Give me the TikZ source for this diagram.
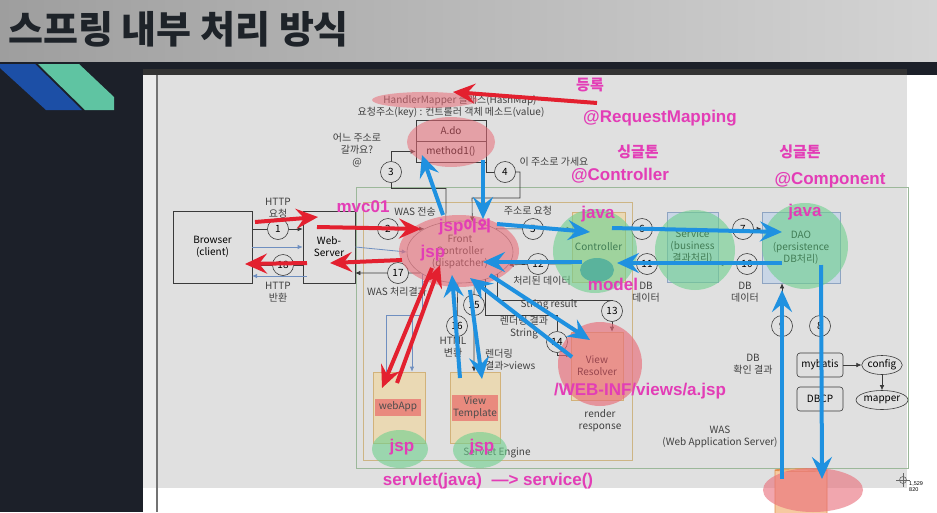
\documentclass[tikz,border=0pt]{standalone}
\usepackage{fontspec}
\setmainfont{Liberation Sans}
\newfontfamily\kr{Noto Sans CJK KR}
\usetikzlibrary{arrows.meta,shapes.geometric,calc}

\definecolor{hdrL}{HTML}{9E9E9E}
\definecolor{hdrR}{HTML}{D4D4D4}
\definecolor{bgdark}{HTML}{1C2029}
\definecolor{titlec}{HTML}{1E2329}
\definecolor{stripeblue}{HTML}{1C4FA6}
\definecolor{stripeteal}{HTML}{5FC4A2}
\definecolor{panel}{HTML}{E0E0E0}
\definecolor{edge}{HTML}{3A3A3A}
\definecolor{wasgreen}{HTML}{9CB89A}
\definecolor{engtan}{HTML}{CDB585}
\definecolor{tanfill}{HTML}{EAD9B4}
\definecolor{tanedge}{HTML}{D2B27A}
\definecolor{bluefill}{HTML}{C9D6E6}
\definecolor{blueedge}{HTML}{8EA4C2}
\definecolor{labred}{HTML}{E98A7E}
\definecolor{thinblue}{HTML}{6F8FC0}
\definecolor{annred}{HTML}{E3202F}
\definecolor{annblue}{HTML}{1F91E0}
\definecolor{annmag}{HTML}{E33DB6}
\definecolor{hlpink}{HTML}{E96C78}
\definecolor{hlgreen}{HTML}{6DD08E}
\definecolor{hlteal}{HTML}{4EAE9C}
\definecolor{dbfill}{HTML}{F6C9A0}
\definecolor{dbedge}{HTML}{E0904E}

\newcommand{\dgf}{\kr\fontsize{10}{12}\selectfont}
\newcommand{\annf}{\fontsize{17}{19}\selectfont\bfseries}
\newcommand{\annkf}{\kr\fontsize{15}{17}\selectfont\bfseries}

\tikzset{
 box/.style={draw=edge, line width=0.6pt, align=center, font=\dgf, inner sep=1pt},
 num/.style={circle, draw=edge, fill=panel, line width=0.6pt, minimum size=21pt, inner sep=0pt, font=\dgf},
 lbl/.style={align=center, font=\dgf, text=black!75, inner sep=1pt},
 conn/.style={draw=edge, line width=0.6pt},
 endtip/.style={-{Latex[length=5pt,width=4.5pt]}},
 thinb/.style={draw=thinblue, line width=0.8pt},
 redarr/.style={draw=annred, line width=4pt, -{Stealth[length=22pt,width=20pt,inset=8pt]}},
 bluarr/.style={draw=annblue, line width=4pt, -{Stealth[length=22pt,width=20pt,inset=8pt]}},
 ann/.style={text=annmag, font=\annf, inner sep=0pt},
 annk/.style={text=annmag, font=\annkf, inner sep=0pt},
}

\begin{document}
\begin{tikzpicture}[x=1pt,y=-1pt]
\useasboundingbox (0,0) rectangle (937,512);

% header and slide background
\shade[left color=hdrL, right color=hdrR] (0,0) rectangle (937,62);
\fill[bgdark] (0,62) rectangle (937,512);
\node[anchor=west, inner sep=0pt, text=titlec, font=\kr\bfseries\fontsize{38}{42}\selectfont] (title) at (8,29) {스프링 내부 처리 방식};
\fill[stripeblue] (0,64) -- (35,64) -- (82,110) -- (46,110) -- (0,68) -- cycle;
\fill[stripeteal] (38,64) -- (79,64) -- (114,97) -- (114,110) -- (85,110) -- cycle;

% screenshot panel
\fill[black!80] (143,69) rectangle (907,75);
\fill[panel] (143,75) rectangle (907,488);
\fill[white] (907,75) rectangle (937,512);
\fill[white] (143,488) rectangle (907,512);
\fill[black!8] (143,75) rectangle (156,488);
\draw[black!55, line width=1.6pt] (157,75) -- (157,512);

% containers
\draw[wasgreen, line width=0.8pt] (356,187) rectangle (908,468);
\draw[engtan, line width=0.8pt] (363,202) rectangle (632,460);

% top labels and handler box
\node[lbl] (hm) at (460,101) {HandlerMapper 클래스(HashMap)};
\node[lbl] (hmk) at (451,113) {요청주소(key) : 컨트롤러 객체 메소드(value)};
\node[box, minimum width=70pt, minimum height=21pt] (ado) at (451,130.5) {A.do};
\node[box, minimum width=70pt, minimum height=21pt] (m1) at (451,151.5) {method1()};
\node[lbl] (where) at (357,150) {어느 주소로\\갈까요?\\@};
\node[lbl] (goaddr) at (554,162) {이 주소로 가세요};

% main boxes
\node[box, minimum width=79pt, minimum height=72pt] (browser) at (212.5,247) {Browser\\(client)};
\node[box, minimum width=52pt, minimum height=72pt] (web) at (329,247) {Web-\\Server};
\node[ellipse, draw=black!50, line width=0.6pt, minimum width=106pt, minimum height=62pt, inner sep=0pt, font=\dgf, align=center, text=black!75] (fc) at (460,252) {Front\\Controller\\(dispatcher)};
\node[box, draw=tanedge, fill=tanfill, minimum width=53pt, minimum height=70pt] (ctrl) at (598.5,247) {Controller};
\node[box, draw=blueedge, fill=bluefill, minimum width=51pt, minimum height=70pt] (svc) at (692.5,247) {Service\\(business\\결과처리)};
\node[box, draw=blueedge, fill=bluefill, minimum width=78pt, minimum height=71pt] (dao) at (801,247.5) {DAO\\(persistence\\DB처리)};
\node[box, draw=tanedge, fill=tanfill, minimum width=52pt, minimum height=68pt] (vr) at (597,366) {View\\Resolver};
\node[box, draw=tanedge, fill=tanfill, minimum width=52pt, minimum height=71pt] (webapp) at (399,407.5) {};
\node[fill=labred, minimum width=46pt, minimum height=17pt, inner sep=0pt, font=\dgf, text=black!70] (webapplbl) at (398,407) {webApp};
\node[box, draw=tanedge, fill=tanfill, minimum width=50pt, minimum height=71pt] (vt) at (475,407.5) {};
\node[fill=labred, minimum width=46pt, minimum height=26pt, inner sep=0pt, font=\dgf, align=center, text=black!70] (vtlbl) at (475,408) {View\\Template};
\node[box, rounded corners=3pt, minimum width=46pt, minimum height=24pt] (myb) at (820,365) {mybatis};
\node[box, rounded corners=3pt, minimum width=46pt, minimum height=24pt] (dbcp) at (820,399) {DBCP};
\node[box, ellipse, minimum width=40pt, minimum height=19pt, inner sep=0pt] (cfg) at (882,365) {config};
\node[box, ellipse, minimum width=40pt, minimum height=19pt, inner sep=0pt] (mapr) at (882,400) {mapper};
\node[cylinder, shape border rotate=90, aspect=0.35, draw=dbedge, fill=dbfill, minimum width=52pt, minimum height=64pt, line width=0.9pt] (db) at (801,502) {};

% other labels
\node[lbl] (httpreq) at (278,208) {HTTP\\요청};
\node[lbl] (httpret) at (278,292) {HTTP\\반환};
\node[lbl] (wassend) at (415,212) {WAS 전송};
\node[lbl] (wasres) at (397,292) {WAS 처리결과};
\node[lbl] (addrreq) at (528,211) {주소로 요청};
\node[lbl] (procdata) at (542,281) {처리된 데이터};
\node[lbl] (dbd1) at (646,292) {DB\\데이터};
\node[lbl] (dbd2) at (745,292) {DB\\데이터};
\node[lbl] (dbchk) at (753,364) {DB\\확인 결과};
\node[lbl] (wasname) at (720,437) {WAS\\(Web Application Server)};
\node[lbl] (strres) at (549,305) {String result};
\node[lbl] (rendstr) at (524,328) {렌더링 결과\\String};
\node[lbl] (htmlconv) at (453,347) {HTML\\변환};
\node[lbl, align=left, anchor=west] (rendviews) at (484,360) {렌더링\\결과>views};
\node[lbl] (rendresp) at (600,421) {render\\response};
\node[lbl] (seng) at (497,453) {Servlet Engine};

% numbered circles
\node[num] (c1) at (278,229) {1};
\node[num] (c18) at (283,265) {18};
\node[num] (c2) at (388,229) {2};
\node[num] (c17) at (398,273) {17};
\node[num] (c3) at (391,172) {3};
\node[num] (c4) at (505,172) {4};
\node[num] (c5) at (533,229) {5};
\node[num] (c12) at (538,264) {12};
\node[num] (c6) at (642,229) {6};
\node[num] (c11) at (647,264) {11};
\node[num] (c7) at (743,229) {7};
\node[num] (c10) at (747,264) {10};
\node[num] (c9) at (782,326) {9};
\node[num] (c8) at (820,326) {8};
\node[num] (c13) at (612,311) {13};
\node[num] (c14) at (557,342) {14};
\node[num] (c15) at (474,305) {15};
\node[num] (c16) at (457,326) {16};

% bend coordinates
\coordinate (k3a) at (446,188);
\coordinate (k3b) at (391,188);
\coordinate (k4a) at (520,172);
\coordinate (k4b) at (520,198);
\coordinate (k4c) at (472,198);
\coordinate (k13) at (612,300);
\coordinate (k14) at (557,315);
\coordinate (k14b) at (571,355);
\coordinate (kw1) at (386,315);
\coordinate (kw2) at (386,372);
\coordinate (kw3) at (412,315);
\coordinate (kbr) at (307,276);
\coordinate (kbl) at (252,276);

% thin connectors
\draw[conn,endtip] (k3a) -- (k3b) -- (c3) |- (m1.west);
\draw[conn] (fc.115) -- (k3a);
\draw[conn] (m1.south east) |- (c4);
\draw[conn,endtip] (c4) -- (k4a) -- (k4b) -- (k4c) -- (fc.68);
\draw[conn,endtip] (browser.east |- c1) -- (c1) -- (web.west |- c1);
\draw[thinb,endtip] (browser.east) -- (web.west);
\draw[conn,endtip] (web.west |- c18) -- (c18) -- (browser.east |- c18);
\draw[thinb,endtip] (kbr) -- (kbl);
\draw[conn,endtip] (web.east |- c2) -- (c2) -- (fc.147);
\draw[thinb,endtip] (web.east) -- (fc.west);
\draw[conn,endtip] (fc.208) -- (c17) -- (web.east |- c17);
\draw[conn,endtip] (fc.33) -- (c5) -- (ctrl.west |- c5);
\draw[conn,endtip] (ctrl.west |- c12) -- (c12) -- (fc.-15);
\draw[conn,endtip] (ctrl.east |- c6) -- (c6) -- (svc.west |- c6);
\draw[conn,endtip] (svc.west |- c11) -- (c11) -- (ctrl.east |- c11);
\draw[conn,endtip] (svc.east |- c7) -- (c7) -- (dao.west |- c7);
\draw[conn,endtip] (dao.west |- c10) -- (c10) -- (svc.east |- c10);
\draw[conn,endtip] (c9 |- db.top) -- (c9) -- (c9 |- dao.south);
\draw[conn,endtip] (c8 |- dao.south) -- (c8) -- (c8 |- db.top);
\draw[conn,endtip] (myb) -- (cfg);
\draw[conn,endtip] (cfg) -- (mapr);
\draw[conn] (fc.-31) |- (k13) -- (c13);
\draw[conn,endtip] (c13) -- (c13 |- vr.north);
\draw[conn] (fc.-47) |- (k14) -- (c14);
\draw[conn,endtip] (c14) |- (k14b);
\draw[conn,endtip] (fc.-65) -- (c15) -- (c15 |- vt.north);
\draw[conn] (fc.-94) -- (c16);
\draw[thinb] (fc.-150) |- (kw1) -- (kw2);
\draw[thinb,endtip] (kw3) -- (kw3 |- webapp.north);

% highlights
\fill[hlpink, opacity=0.55] (425,100) ellipse [x radius=53pt, y radius=8pt];
\fill[hlpink, opacity=0.55] (451,142) ellipse [x radius=44pt, y radius=25pt];
\fill[hlpink, opacity=0.6] (459,251) ellipse [x radius=60pt, y radius=36pt];
\fill[hlgreen, opacity=0.6] (595,251) circle [radius=42pt];
\fill[hlteal, opacity=0.85] (597,270) ellipse [x radius=17pt, y radius=12pt];
\fill[hlgreen, opacity=0.6] (695,250) circle [radius=40pt];
\fill[hlgreen, opacity=0.6] (805,246) circle [radius=43pt];
\fill[hlpink, opacity=0.65] (600,364) circle [radius=42pt];
\fill[hlgreen, opacity=0.6] (400,449) ellipse [x radius=28pt, y radius=19pt];
\fill[hlgreen, opacity=0.6] (480,450) ellipse [x radius=27pt, y radius=18pt];
\fill[hlpink, opacity=0.6] (813,490) ellipse [x radius=50pt, y radius=22pt];

% crosshair
\coordinate (xh) at (903,480);
\draw[black!60, line width=0.6pt] (xh) circle [radius=3.5pt];
\draw[black!60, line width=0.6pt] ($(xh)+(-7,0)$) -- ($(xh)+(7,0)$) ($(xh)+(0,-7)$) -- ($(xh)+(0,7)$);
\node[inner sep=0pt, font=\fontsize{5.5}{6}\selectfont, align=left, anchor=north west] (xhl) at (909,481) {1,529\\820};

% annotation arrows
\coordinate (r1s) at (597,103); \coordinate (r1e) at (453,92);
\coordinate (r2s) at (255,222); \coordinate (r2e) at (318,217);
\coordinate (r3s) at (317,227); \coordinate (r3e) at (421,229);
\coordinate (r4s) at (402,260); \coordinate (r4e) at (330,263);
\coordinate (r5s) at (307,263); \coordinate (r5e) at (245,264);
\coordinate (r6s) at (432,268); \coordinate (r6e) at (382,388);
\coordinate (r7s) at (397,383); \coordinate (r7e) at (440,265);
\draw[redarr] (r1s) -- (r1e);
\draw[redarr] (r2s) -- (r2e);
\draw[redarr] (r3s) -- (r3e);
\draw[redarr] (r4s) -- (r4e);
\draw[redarr] (r5s) -- (r5e);
\draw[redarr] (r6s) -- (r6e);
\draw[redarr] (r7s) -- (r7e);

\coordinate (b1s) at (443,215); \coordinate (b1e) at (422,155);
\coordinate (b2s) at (483,160); \coordinate (b2e) at (483,219);
\coordinate (b3s) at (497,224); \coordinate (b3e) at (590,232);
\coordinate (b4s) at (612,228); \coordinate (b4e) at (782,232);
\coordinate (b5s) at (782,263); \coordinate (b5e) at (617,263);
\coordinate (b6s) at (582,262); \coordinate (b6e) at (483,262);
\coordinate (b7s) at (490,275); \coordinate (b7e) at (590,340);
\coordinate (b8s) at (572,357); \coordinate (b8e) at (470,278);
\coordinate (b9s) at (460,378); \coordinate (b9e) at (452,275);
\coordinate (b10s) at (470,290); \coordinate (b10e) at (482,379);
\coordinate (b11s) at (821,265); \coordinate (b11e) at (822,479);
\coordinate (b12s) at (782,479); \coordinate (b12e) at (782,290);
\foreach \i in {1,...,12} { \draw[bluarr] (b\i s) -- (b\i e); }

% annotation texts
\node[annk] (t_reg) at (590,85) {등록};
\node[ann] (t_rm) at (660,118) {@RequestMapping};
\node[annk] (t_sg1) at (638,152) {싱글톤};
\node[ann] (t_ctl) at (620,176) {@Controller};
\node[annk] (t_sg2) at (800,152) {싱글톤};
\node[ann] (t_cmp) at (830,180) {@Component};
\node[ann] (t_mvc) at (363,207) {mvc01};
\node[ann] (t_jspx) at (465,227) {jsp{\annkf 이외}};
\node[ann] (t_jsp0) at (433,253) {jsp};
\node[ann] (t_java1) at (598,214) {java};
\node[ann] (t_java2) at (805,212) {java};
\node[ann] (t_model) at (613,284) {model};
\node[ann] (t_web) at (640,391) {/WEB-INF/views/a.jsp};
\node[ann] (t_jsp1) at (402,447) {jsp};
\node[ann] (t_jsp2) at (482,447) {jsp};
\node[ann] (t_svl) at (488,481) {servlet(java)\ \ —> service()};
\end{tikzpicture}
\end{document}
